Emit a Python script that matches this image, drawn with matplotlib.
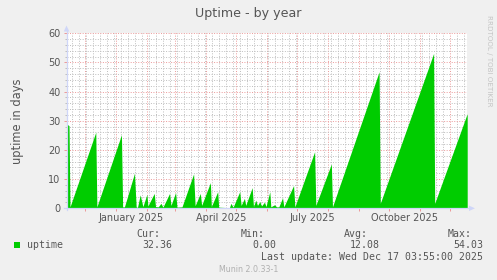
import matplotlib
matplotlib.use("Agg")
import matplotlib.pyplot as plt
import matplotlib.dates as mdates
from matplotlib.patches import Polygon
from matplotlib.lines import Line2D
import matplotlib.transforms as mtrans
import datetime as dt

# ---------------- data ----------------
base_date = dt.datetime(2024, 12, 1)
day_offsets = [-17.7, -15.5, -14.5, 11.2, 12.3, 36.8, 38.0, 39.8, 49.8, 51.5,
               52.8, 55.5, 58.2, 62.2, 63.2, 69.5, 70.8, 73.5, 76.2, 78.2,
               84.8, 86.2, 90.8, 92.2, 97.2, 108.8, 110.3, 115.5, 116.8, 125.5,
               126.5, 132.8, 133.8, 144.5, 146.0, 148.2, 154.8, 156.2, 159.5, 160.8,
               167.2, 168.5, 170.8, 172.5, 174.8, 176.5, 179.5, 181.0, 184.8, 185.8,
               189.5, 191.5, 193.8, 197.5, 198.8, 208.5, 209.8, 229.5, 230.7, 246.2,
               247.3, 293.8, 295.0, 348.2, 349.3, 381.2, 381.7]
uptime_days = [28.9, 28.3, 0.5, 26.1, 0.5, 25.2, 0.5, 0.5, 12.0, 0.5,
               0.3, 4.6, 0.6, 4.8, 0.8, 5.1, 0.6, 0.5, 1.7, 0.4,
               5.1, 1.0, 5.4, 0.4, 0.5, 11.8, 0.9, 5.1, 1.0, 8.8,
               0.6, 5.7, 0.4, 0.2, 1.7, 0.4, 5.7, 1.0, 3.4, 1.0,
               7.1, 0.6, 2.8, 1.0, 2.3, 0.8, 2.1, 0.6, 5.7, 0.5,
               1.2, 0.5, 0.5, 3.6, 0.5, 7.8, 0.5, 19.4, 1.0, 15.2,
               0.5, 46.8, 1.7, 53.1, 1.7, 32.0, 32.4]

x_start = dt.datetime(2024, 11, 13, 0)
x_end = dt.datetime(2025, 12, 17, 12)
label_months = [dt.datetime(2025, 1, 1), dt.datetime(2025, 4, 1),
                dt.datetime(2025, 7, 1), dt.datetime(2025, 10, 1)]
label_texts = ["January 2025", "April 2025", "July 2025", "October 2025"]

y_max = 60
title = "Uptime - by year"
y_label = "uptime in days"
series_name = "uptime"
stat_names = ["Cur:", "Min:", "Avg:", "Max:"]
stat_values = ["32.36", "0.00", "12.08", "54.03"]
last_update = "Last update: Wed Dec 17 03:55:00 2025"
watermark = "Munin 2.0.33-1"
side_text = "RRDTOOL / TOBI OETIKER"

# ---------------- styles ----------------
W, H = 497, 280
BG = "#F0F0F0"
GREEN = "#00CC00"
FONT_C = "#555555"
AXIS_C = "#CFD6F8"
MGRID = "#EC9A9A"
GRID = "#BEBEBE"

def fx(px):
    return px / W

def fy(py):
    return 1 - py / H

dates = [base_date + dt.timedelta(days=d) for d in day_offsets]

fig = plt.figure(figsize=(W / 100, H / 100), dpi=100, facecolor=BG)
L, R, T, B = 66.5, 467, 33.3, 208.3
ax = fig.add_axes([fx(L), fy(B), fx(R - L), (B - T) / H])
ax.set_facecolor("white")
for s in ax.spines.values():
    s.set_visible(False)

ax.fill_between(dates, uptime_days, 0, color=GREEN, linewidth=0, zorder=3)
ax.set_xlim(x_start, x_end)
ax.set_ylim(0, y_max)

# grids
ax.set_axisbelow(True)
ax.yaxis.set_major_locator(matplotlib.ticker.MultipleLocator(10))
ax.yaxis.set_minor_locator(matplotlib.ticker.MultipleLocator(2))
ax.xaxis.set_major_locator(mdates.MonthLocator())
ax.xaxis.set_minor_locator(mdates.WeekdayLocator(byweekday=mdates.MO))
ax.grid(which="minor", color=GRID, linewidth=0.7, linestyle=(0, (1, 1.6)), zorder=0)
ax.grid(which="major", color=MGRID, linewidth=0.7, linestyle=(0, (1, 1.6)), zorder=1)
ax.xaxis.set_major_formatter(matplotlib.ticker.NullFormatter())
ax.tick_params(axis="x", which="major", length=2.5, color=MGRID, width=0.72)
ax.tick_params(axis="x", which="minor", length=0)
ax.tick_params(axis="y", which="major", length=2.2, color=MGRID, width=0.72,
               labelsize=7, labelcolor=FONT_C, pad=2.2)
ax.tick_params(axis="y", which="minor", length=1.5, color=GRID, width=0.72)

# month labels centred on the month period
blend = mtrans.blended_transform_factory(ax.transData, ax.transAxes)
for m, t in zip(label_months, label_texts):
    ax.text(m + dt.timedelta(days=15.5), -12.4 / (B - T), t, transform=blend,
            ha="center", va="baseline", fontsize=7, color=FONT_C, clip_on=False)

# axis lines with arrows (light blue)
fig.add_artist(Line2D([fx(L), fx(L)], [fy(B + 2), fy(29)], color=AXIS_C, lw=0.9))
fig.add_artist(Line2D([fx(L - 3), fx(471)], [fy(B), fy(B)], color=AXIS_C, lw=0.9))
fig.add_artist(Polygon([[fx(L - 2.7), fy(31.5)], [fx(L + 2.7), fy(31.5)], [fx(L), fy(25.5)]],
                       closed=True, transform=fig.transFigure, color=AXIS_C, lw=0))
fig.add_artist(Polygon([[fx(469), fy(B - 2.7)], [fx(469), fy(B + 2.7)], [fx(475), fy(B)]],
                       closed=True, transform=fig.transFigure, color=AXIS_C, lw=0))

# title, axis label, side text
fig.text(fx(248.3), fy(17.3), title, ha="center", va="baseline", fontsize=9.1, color=FONT_C)
fig.text(fx(18), fy((T + B) / 2), y_label, rotation=90, ha="center", va="center",
         fontsize=8.3, color=FONT_C)
fig.text(fx(489), fy(61), side_text, rotation=270, ha="center", va="center",
         fontsize=5.1, color="#C4C4C4")

# legend
mono = "DejaVu Sans Mono"
head_left = [136.7, 240.7, 344.0, 447.7]
val_right = [172.3, 276.0, 379.3, 483.3]
fig.add_artist(Polygon([[fx(14), fy(242.3)], [fx(19.5), fy(242.3)], [fx(19.5), fy(247.8)],
                        [fx(14), fy(247.8)]], closed=True, transform=fig.transFigure,
                       color=GREEN, lw=0))
fig.text(fx(26.5), fy(248.3), series_name, family=mono, fontsize=7.1, color=FONT_C, va="baseline")
for name, val, xl, xr in zip(stat_names, stat_values, head_left, val_right):
    fig.text(fx(xl), fy(236.7), name, family=mono, fontsize=7.1, color=FONT_C, va="baseline")
    fig.text(fx(xr), fy(248.3), val, family=mono, fontsize=7.1, color=FONT_C,
             va="baseline", ha="right")
fig.text(fx(483.3), fy(260.3), last_update, family=mono, fontsize=7.1, color=FONT_C,
         va="baseline", ha="right")
fig.text(fx(248.5), fy(272), watermark, ha="center", va="baseline", fontsize=5.7,
         color="#B0B0B0")

fig.savefig("out.png", dpi=100, facecolor=BG)
